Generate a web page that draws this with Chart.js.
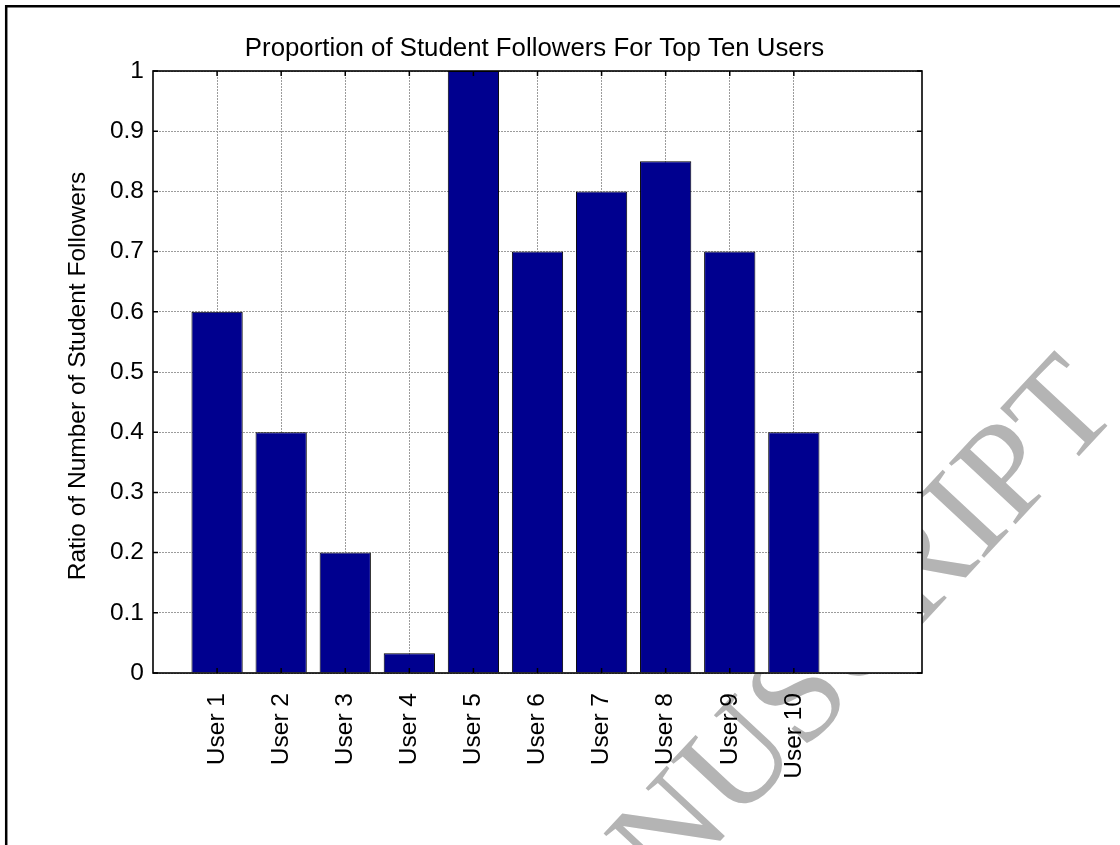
<!DOCTYPE html>
<html>
<head>
<meta charset="utf-8">
<style>
  html, body { margin: 0; padding: 0; background: #fff; }
  #wrap { width: 1120px; height: 845px; }
</style>
<script src="https://cdn.jsdelivr.net/npm/chart.js@4.4.1/dist/chart.umd.min.js"></script>
</head>
<body>
<div id="wrap"><canvas id="chart" width="1120" height="845"></canvas></div>
<script>
// Share of student followers for each of the ten most-followed users
const categories = ['User 1', 'User 2', 'User 3', 'User 4', 'User 5',
                    'User 6', 'User 7', 'User 8', 'User 9', 'User 10'];
const ratios = [0.6, 0.4, 0.2, 0.033, 1.0, 0.7, 0.8, 0.85, 0.7, 0.4];
const yTicks = [0, 0.1, 0.2, 0.3, 0.4, 0.5, 0.6, 0.7, 0.8, 0.9, 1];
const yTickLabels = ['0', '0.1', '0.2', '0.3', '0.4', '0.5', '0.6', '0.7', '0.8', '0.9', '1'];

const titleText = 'Proportion of Student Followers For Top Ten Users';
const yAxisText = 'Ratio of Number of Student Followers';
const stampText = 'ACCEPTED MANUSCRIPT';

const FONT = 'Liberation Sans, Arial, Helvetica, sans-serif';
const tickFont = { family: FONT, size: 24.5 };

// Page frame, stamp, axes box, inward tick marks, title and axis caption
const decorations = {
  id: 'decorations',
  beforeDraw(chart) {
    const { ctx, chartArea: a } = chart;
    ctx.save();
    ctx.fillStyle = '#ffffff';
    ctx.fillRect(0, 0, chart.width, chart.height);

    // page frame (left and top edges)
    ctx.strokeStyle = '#000';
    ctx.lineWidth = 2.5;
    ctx.beginPath();
    ctx.moveTo(6.2, chart.height + 2);
    ctx.lineTo(6.2, 6.2);
    ctx.lineTo(chart.width + 2, 6.2);
    ctx.stroke();

    // diagonal stamp behind the axes
    ctx.save();
    ctx.translate(1122, 410);
    ctx.rotate(-47 * Math.PI / 180);
    ctx.font = '138px "Liberation Serif", "Times New Roman", serif';
    ctx.fillStyle = '#b4b4b4';
    ctx.textAlign = 'right';
    ctx.textBaseline = 'alphabetic';
    ctx.fillText(stampText, 0, 0);
    ctx.restore();

    // white axes background
    ctx.fillStyle = '#ffffff';
    ctx.fillRect(a.left, a.top, a.right - a.left, a.bottom - a.top);
    ctx.restore();
  },
  afterDatasetsDraw(chart) {
    const { ctx, chartArea: a, scales } = chart;
    ctx.save();
    ctx.strokeStyle = '#000';
    ctx.lineWidth = 1.6;
    ctx.strokeRect(a.left, a.top, a.right - a.left, a.bottom - a.top);

    ctx.lineWidth = 1.5;
    const t = 5;
    ctx.beginPath();
    yTicks.forEach(v => {
      const y = scales.y.getPixelForValue(v);
      ctx.moveTo(a.left, y); ctx.lineTo(a.left + t, y);
      ctx.moveTo(a.right, y); ctx.lineTo(a.right - t, y);
    });
    categories.forEach((c, i) => {
      const x = scales.x.getPixelForValue(i + 1);
      ctx.moveTo(x, a.top); ctx.lineTo(x, a.top + t);
      ctx.moveTo(x, a.bottom); ctx.lineTo(x, a.bottom - t);
    });
    ctx.stroke();

    // title
    ctx.fillStyle = '#000';
    ctx.font = '25.8px ' + FONT;
    ctx.textAlign = 'center';
    ctx.textBaseline = 'alphabetic';
    ctx.fillText(titleText, (a.left + a.right) / 2 - 3, 56);

    // y-axis caption
    ctx.save();
    ctx.translate(85, (a.top + a.bottom) / 2 + 4);
    ctx.rotate(-Math.PI / 2);
    ctx.font = '24.5px ' + FONT;
    ctx.textAlign = 'center';
    ctx.textBaseline = 'alphabetic';
    ctx.fillText(yAxisText, 0, 0);
    ctx.restore();
    ctx.restore();
  }
};

new Chart(document.getElementById('chart'), {
  type: 'bar',
  data: {
    datasets: [{
      data: categories.map((c, i) => ({ x: i + 1, y: ratios[i] })),
      backgroundColor: '#00008f',
      borderColor: '#000000',
      borderWidth: 1,
      barPercentage: 0.8,
      categoryPercentage: 1
    }]
  },
  options: {
    responsive: false,
    animation: false,
    devicePixelRatio: 1,
    layout: { padding: { top: 71, right: 198, left: 0, bottom: 0 } },
    plugins: { legend: { display: false }, tooltip: { enabled: false }, title: { display: false } },
    scales: {
      x: {
        type: 'linear',
        offset: false,
        min: 0,
        max: 12,
        afterBuildTicks: s => { s.ticks = categories.map((c, i) => ({ value: i + 1 })); },
        afterFit: s => { s.height = 172; },
        ticks: {
          autoSkip: false,
          minRotation: 90,
          maxRotation: 90,
          padding: 20,
          color: '#000',
          font: tickFont,
          callback: v => categories[Math.round(v) - 1]
        },
        grid: { offset: false, color: '#9c9c9c', lineWidth: 1, drawTicks: false },
        border: { display: false, dash: [2, 1] }
      },
      y: {
        min: 0,
        max: 1,
        afterBuildTicks: s => { s.ticks = yTicks.map(v => ({ value: v })); },
        afterFit: s => { s.width = 153; },
        ticks: {
          padding: 9,
          color: '#000',
          font: tickFont,
          callback: (v, i) => yTickLabels[i]
        },
        grid: { color: '#9c9c9c', lineWidth: 1, drawTicks: false },
        border: { display: false, dash: [2, 1] }
      }
    }
  },
  plugins: [decorations]
});
</script>
</body>
</html>
